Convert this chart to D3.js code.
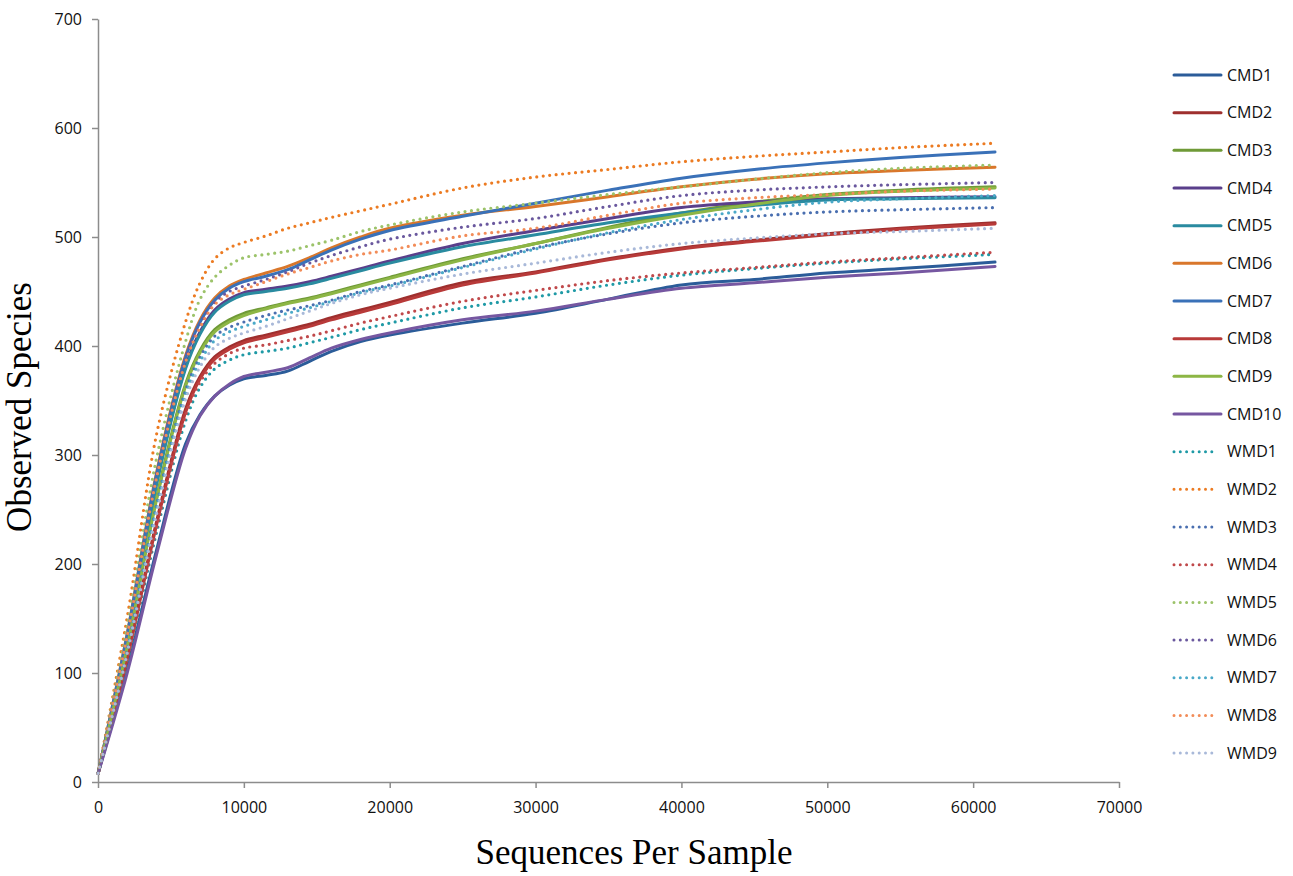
<!DOCTYPE html>
<html>
<head>
<meta charset="utf-8">
<script src="https://cdn.jsdelivr.net/npm/d3@7"></script>
<style>
  body { margin: 0; background: #fff; }
  svg { display: block; }
</style>
</head>
<body>
<svg id="my_svg"></svg>
<script>
const width = 1293;
const height = 876;

// sequences per sample (x of every sampled point)
const seqs = [10, 2000, 4000, 6000, 7000, 8000, 9000, 10000, 11500, 13000, 14500, 16000,
    18000, 20000, 25000, 30000, 35000, 40000, 45000, 50000, 55000, 61500];

// observed species, one array per sample
const CMD1 = [8, 104, 212, 310, 337, 354, 364, 370, 373, 377, 386, 395, 404, 410, 421, 430, 443, 456, 461, 467, 471, 477];
const CMD2 = [8, 115, 238, 342, 372, 390, 399, 405, 410, 415, 420, 426, 433, 440, 458, 468, 480, 490, 497, 503, 508, 513];
const CMD3 = [8, 125, 260, 365, 396, 415, 424, 430, 435, 440, 444, 449, 456, 463, 480, 494, 509, 522, 532, 539, 543, 546];
const CMD4 = [8, 131, 274, 381, 413, 433, 443, 449, 452, 455, 459, 464, 471, 478, 494, 506, 517, 527, 532, 535, 536, 537];
const CMD5 = [8, 130, 272, 379, 411, 431, 441, 447, 450, 453, 457, 462, 469, 476, 491, 502, 513, 522, 529, 534, 535, 536];
const CMD6 = [8, 136, 283, 391, 424, 444, 455, 461, 467, 473, 481, 490, 500, 508, 520, 528, 537, 546, 553, 558, 561, 564];
const CMD7 = [8, 135, 281, 389, 422, 442, 453, 459, 464, 470, 479, 488, 498, 506, 519, 531, 543, 554, 562, 568, 573, 578];
const CMD8 = [8, 113, 235, 339, 370, 388, 397, 403, 408, 413, 418, 424, 431, 438, 456, 467, 479, 489, 496, 502, 507, 512];
const CMD9 = [8, 124, 258, 363, 394, 413, 422, 428, 434, 439, 443, 448, 455, 462, 479, 494, 508, 520, 530, 538, 542, 545];
const CMD10 = [8, 100, 208, 306, 336, 354, 365, 372, 376, 380, 389, 398, 406, 412, 424, 432, 443, 453, 458, 463, 467, 473];
const WMD1 = [8, 110, 228, 331, 362, 379, 387, 392, 395, 398, 403, 408, 415, 421, 435, 445, 456, 465, 471, 476, 480, 484];
const WMD2 = [8, 151, 318, 422, 458, 480, 490, 495, 501, 508, 513, 518, 524, 530, 545, 555, 562, 569, 574, 578, 582, 586];
const WMD3 = [8, 122, 253, 359, 390, 409, 417, 422, 428, 433, 437, 442, 450, 456, 473, 490, 503, 513, 519, 523, 525, 527];
const WMD4 = [8, 112, 232, 336, 367, 384, 393, 398, 401, 405, 409, 414, 421, 427, 441, 451, 460, 467, 472, 477, 481, 486];
const WMD5 = [8, 142, 296, 404, 443, 463, 474, 481, 484, 487, 492, 497, 505, 511, 523, 531, 539, 546, 553, 559, 563, 566];
const WMD6 = [8, 135, 281, 389, 420, 440, 450, 455, 461, 468, 476, 483, 491, 498, 509, 517, 528, 538, 543, 546, 548, 550];
const WMD7 = [8, 120, 250, 355, 386, 405, 413, 418, 424, 430, 435, 441, 449, 455, 472, 489, 504, 516, 525, 532, 535, 538];
const WMD8 = [8, 134, 278, 385, 417, 438, 447, 452, 459, 466, 472, 478, 484, 488, 501, 508, 520, 531, 536, 539, 542, 544];
const WMD9 = [8, 118, 245, 351, 381, 399, 407, 412, 418, 425, 432, 439, 447, 453, 466, 476, 486, 494, 499, 503, 505, 508];

const seriesNames = ['CMD1', 'CMD2', 'CMD3', 'CMD4', 'CMD5', 'CMD6', 'CMD7', 'CMD8', 'CMD9', 'CMD10',
    'WMD1', 'WMD2', 'WMD3', 'WMD4', 'WMD5', 'WMD6', 'WMD7', 'WMD8', 'WMD9'];
const seriesValues = [CMD1, CMD2, CMD3, CMD4, CMD5, CMD6, CMD7, CMD8, CMD9, CMD10,
    WMD1, WMD2, WMD3, WMD4, WMD5, WMD6, WMD7, WMD8, WMD9];

const yTicks = [0, 100, 200, 300, 400, 500, 600, 700];
const xTicks = [0, 10000, 20000, 30000, 40000, 50000, 60000, 70000];

const name2color = {
    CMD1: '#2b5c99', CMD2: '#9e2f2e', CMD3: '#6f9a37', CMD4: '#5a3f8b', CMD5: '#2a8ba0',
    CMD6: '#d9772b', CMD7: '#3a71b8', CMD8: '#b83a39', CMD9: '#8db645', CMD10: '#7657a1',
    WMD1: '#1f9aa6', WMD2: '#ec7b22', WMD3: '#4a6fb0', WMD4: '#c0494b', WMD5: '#9cc36a',
    WMD6: '#6a589e', WMD7: '#4aa9c8', WMD8: '#f28c58', WMD9: '#a9b9d9'
};

const series = seriesNames.map((name, i) => ({
    name: name,
    dotted: name.startsWith('WMD'),
    color: name2color[name],
    points: seqs.map((s, j) => ({ x: s, y: seriesValues[i][j] }))
}));

const svg = d3.select('#my_svg')
    .attr('width', width)
    .attr('height', height);

const x = d3.scaleLinear().domain([0, 70000]).range([98, 1119]);
const y = d3.scaleLinear().domain([0, 700]).range([782, 19]);

// axes
const yAxis = svg.append('g')
    .attr('transform', `translate(${x(0)},0)`)
    .call(d3.axisLeft(y).tickValues(yTicks).tickSize(6).tickSizeOuter(0).tickPadding(10));

const xAxis = svg.append('g')
    .attr('transform', `translate(0,${y(0)})`)
    .call(d3.axisBottom(x).tickValues(xTicks).tickSize(6).tickSizeOuter(0).tickPadding(14)
        .tickFormat(d3.format('d')));

for (const ax of [yAxis, xAxis]) {
    ax.select('.domain').attr('stroke', '#8c8c8c').attr('stroke-width', 1.5);
    ax.selectAll('.tick line').attr('stroke', '#8c8c8c').attr('stroke-width', 1.5);
    ax.selectAll('.tick text')
        .attr('fill', '#111')
        .style('font-family', '"Open Sans", sans-serif')
        .style('font-size', '16px');
}
yAxis.selectAll('.tick text').attr('dy', '0.35em');

// axis titles
svg.append('text')
    .attr('transform', `translate(31,407) rotate(-90)`)
    .attr('text-anchor', 'middle')
    .style('font-family', '"Liberation Serif", "Times New Roman", serif')
    .style('font-size', '35px')
    .text('Observed Species');

svg.append('text')
    .attr('x', 634)
    .attr('y', 864)
    .attr('text-anchor', 'middle')
    .style('font-family', '"Liberation Serif", "Times New Roman", serif')
    .style('font-size', '35px')
    .text('Sequences Per Sample');

// curves
const line = d3.line()
    .x(d => x(d.x))
    .y(d => y(d.y))
    .curve(d3.curveCatmullRom.alpha(0.5));

svg.append('g')
    .attr('id', 'lines_g')
    .selectAll('path')
    .data(series)
    .enter().append('path')
    .attr('d', d => line(d.points))
    .attr('fill', 'none')
    .attr('stroke', d => d.color)
    .attr('stroke-width', d => d.dotted ? 3.2 : 3)
    .attr('stroke-linecap', 'round')
    .attr('stroke-dasharray', d => d.dotted ? '0 6.5' : null);

// legend
const legend = svg.append('g')
    .attr('id', 'legend_g')
    .selectAll('g')
    .data(series)
    .enter().append('g')
    .attr('transform', (d, i) => `translate(1174,${75 + i * 37.67})`);

legend.append('line')
    .attr('x1', 0)
    .attr('x2', d => d.dotted ? 44 : 47)
    .attr('stroke', d => d.color)
    .attr('stroke-width', 3)
    .attr('stroke-linecap', 'round')
    .attr('stroke-dasharray', d => d.dotted ? '0 6.3' : null);

legend.append('text')
    .attr('x', 53)
    .attr('dy', '0.35em')
    .style('font-family', '"Open Sans", sans-serif')
    .style('font-size', '16px')
    .attr('fill', '#111')
    .text(d => d.name);
</script>
</body>
</html>
